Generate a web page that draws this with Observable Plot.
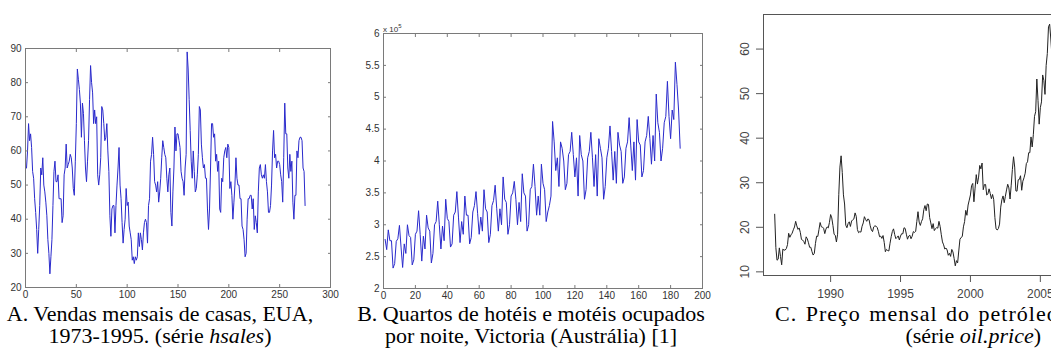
<!DOCTYPE html>
<html><head><meta charset="utf-8">
<script src="https://cdn.jsdelivr.net/npm/d3@7"></script>
<script src="https://cdn.jsdelivr.net/npm/@observablehq/plot@0.6"></script>
<style>
html,body{margin:0;padding:0;background:#fff;}
body{width:1051px;height:351px;overflow:hidden;position:relative;}
.panel{position:absolute;top:0;}
.panel svg{max-width:none !important;}
.cap{position:absolute;font-family:"Liberation Serif","Times New Roman",Tinos,"Nimbus Roman","Noto Serif","DejaVu Serif",serif;font-size:22px;line-height:22px;color:#000;white-space:nowrap;}
.mid{transform:translateX(-50%);}
.exp{position:absolute;left:383px;top:23px;font-family:"Liberation Sans",Arial,sans-serif;font-size:8px;color:#333;}
.exp sup{font-size:6px;}
</style></head><body>
<div id="pa" class="panel" style="left:0px;width:345px"></div>
<div id="pb" class="panel" style="left:340px;width:380px"></div>
<div id="pc" class="panel" style="left:720px;width:360px"></div>
<div class="exp">x 10<sup>5</sup></div>
<div class="cap mid" style="left:160px;top:303px">A. Vendas mensais de casas, EUA,</div>
<div class="cap mid" style="left:160px;top:325px">1973-1995. (série <i>hsales</i>)</div>
<div class="cap mid" style="left:531px;top:303px">B. Quartos de hotéis e motéis ocupados</div>
<div class="cap mid" style="left:531px;top:325px">por noite, Victoria (Austrália) [1]</div>
<div class="cap" style="left:775px;top:303px;letter-spacing:1px;word-spacing:2px">C. Preço mensal do petróleo</div>
<div class="cap" style="right:10px;top:325px">(série <i>oil.price</i>)</div>
<script>
// A. hsales: monthly new house sales, USA, 1973-01 .. 1995-11
const hsales = [
55,60,68,63,65,61,54,52,46,42,37,30,
37,44,55,53,58,50,48,45,41,34,30,24,
29,34,44,54,57,51,51,53,46,46,46,39,
41,53,55,62,55,56,57,59,58,55,49,47,
57,68,84,81,78,74,64,74,71,63,55,51,
57,63,75,85,80,77,68,72,68,70,53,50,
53,58,73,72,68,63,64,68,60,54,41,35,
43,44,44,36,44,50,55,61,50,46,39,33,
37,40,49,44,45,38,36,34,28,29,27,29,
28,29,36,32,36,34,31,36,39,40,39,33,
44,46,57,59,64,59,51,50,48,51,45,48,
52,58,63,61,59,58,52,48,53,55,42,38,
48,55,67,60,65,65,63,61,54,52,51,47,
55,59,89,84,75,66,57,52,60,54,48,49,
53,59,73,72,62,58,55,56,52,52,43,37,
43,55,68,68,64,65,57,59,54,57,43,42,
52,51,58,60,61,58,62,61,49,51,47,40,
45,50,58,52,50,50,46,46,38,37,34,29,
30,40,46,46,47,47,43,46,37,41,39,36,
48,55,56,53,52,53,52,56,51,48,42,42,
44,50,60,66,58,59,55,57,57,56,53,51,
45,58,74,65,65,55,52,59,54,57,45,40,
47,47,60,58,63,64,64,63,55,54,44
];
const hsalesXTicks = [0,50,100,150,200,250,300];
const hsalesYTicks = [20,30,40,50,60,70,80,90];

// B. motel room nights (thousands), Victoria, 1980-01 .. 1995-06
const motel = [
277,261,292,275,275,232,239,274,278,299,265,233,
270,255,300,283,280,237,245,285,290,322,285,243,
282,262,315,295,290,240,255,300,305,337,300,262,
298,275,340,310,305,265,270,315,320,352,312,272,
305,285,345,315,315,270,280,320,330,352,318,285,
312,290,355,325,320,272,285,330,338,362,325,290,
325,300,375,340,335,285,300,345,350,368,340,300,
335,305,380,350,345,290,300,355,360,395,360,315,
345,315,395,365,355,305,320,330,345,462,430,385,
405,360,430,420,400,355,365,410,415,445,410,375,
405,345,440,410,400,340,355,405,415,445,405,360,
410,345,435,420,405,340,360,405,420,455,415,370,
415,365,445,425,415,365,375,420,430,468,425,385,
430,370,465,430,425,375,385,430,440,470,435,395,
440,400,505,460,445,400,420,460,470,525,470,435,
480,465,555,520,480,420
];
const motelXTicks = [0,20,40,60,80,100,120,140,160,180,200];
const motelYTicks = [2,2.5,3,3.5,4,4.5,5,5.5,6];

// C. oil.price: monthly crude oil price (US$/barrel), 1986-01 .. 2006-01
const oilStart = 1986;
const oilPrice = [
22.93,15.45,12.61,12.84,15.38,13.43,11.58,15.10,14.87,14.90,15.22,16.11,
18.65,17.75,18.30,18.68,19.44,20.07,21.34,20.31,19.53,19.86,18.85,17.27,
17.13,16.80,16.20,17.86,17.42,16.53,15.50,15.52,14.54,13.77,14.14,16.38,
18.02,17.94,19.48,21.07,20.12,20.05,19.78,18.58,19.59,20.10,19.86,21.10,
22.86,22.11,20.39,18.43,18.20,16.70,18.45,27.31,33.51,36.04,32.33,27.28,
25.23,20.48,19.90,20.83,21.23,20.19,21.40,21.69,21.89,23.23,22.46,19.50,
18.79,19.01,18.92,20.23,20.98,22.38,21.78,21.34,21.88,21.69,20.34,19.41,
19.03,20.09,20.32,20.25,19.95,19.09,17.89,18.01,17.50,18.15,16.61,14.52,
15.03,14.78,14.68,16.42,17.89,19.06,19.65,18.38,17.45,17.72,18.07,17.16,
18.04,18.57,18.54,19.90,19.74,18.45,17.33,18.02,18.23,17.43,17.99,19.03,
18.85,19.09,21.33,23.50,21.17,20.42,21.30,21.90,23.97,24.88,23.71,25.23,
25.13,22.18,20.97,19.70,20.82,19.26,19.66,19.95,19.80,21.33,20.19,18.33,
16.72,16.06,15.12,15.35,14.91,13.72,14.17,13.47,15.03,14.46,13.00,11.35,
12.51,12.01,14.68,17.31,17.72,17.92,20.10,21.28,23.80,22.69,25.00,26.10,
27.26,29.37,29.84,25.72,28.79,31.82,29.70,31.26,33.88,33.11,34.42,28.44,
29.59,29.61,27.24,27.49,28.63,27.60,26.42,27.37,26.20,22.17,19.64,19.39,
19.72,20.72,24.53,26.18,27.04,25.52,26.97,28.39,29.66,28.84,26.35,29.46,
32.95,35.83,33.51,28.17,28.11,30.66,30.75,31.57,28.31,30.34,31.11,32.13,
34.31,34.69,36.74,36.75,40.28,38.03,40.78,44.90,45.94,53.28,48.47,43.15,
46.84,48.15,54.19,52.98,49.83,56.35,59.00,64.99,65.59,62.26,58.32,59.41,
65.49
];
const oilXTicks = [1990,1995,2000,2005];
const oilYTicks = [10,20,30,40,50,60];

const matFont = '"Liberation Sans", Arial, sans-serif';
const narrowFont = '"Liberation Sans Narrow", "Arial Narrow", "Liberation Sans", sans-serif';
const axisGray = "#7a7a7a";
const blue = "#2a2acc";

function matlabPanel({data, xTicks, yTicks, xDomain, yDomain, yValue, width, ml, mr, mt, mb, yFmt}) {
  return Plot.plot({
    width, height: 310,
    marginLeft: ml, marginRight: mr, marginTop: mt, marginBottom: mb,
    x: {domain: xDomain},
    y: {domain: yDomain},
    style: {background: "transparent", fontFamily: matFont, fontSize: "10px", color: "#333"},
    marks: [
      Plot.lineY(data, {x: (d, i) => i + 1, y: yValue, stroke: blue, strokeWidth: 1}),
      Plot.frame({stroke: axisGray}),
      Plot.axisX(xTicks, {anchor: "bottom", tickSize: -3, tickPadding: 6, stroke: axisGray, fill: "#333", fontFamily: narrowFont, label: null}),
      Plot.axisX(xTicks, {anchor: "top", tickSize: -3, stroke: axisGray, tickFormat: () => "", label: null}),
      Plot.axisY(yTicks, {anchor: "left", tickSize: -3, tickPadding: 7, stroke: axisGray, fill: "#333", tickFormat: yFmt, label: null}),
      Plot.axisY(yTicks, {anchor: "right", tickSize: -3, stroke: axisGray, tickFormat: () => "", label: null})
    ]
  });
}

document.getElementById("pa").append(matlabPanel({
  data: hsales, xTicks: hsalesXTicks, yTicks: hsalesYTicks,
  xDomain: [hsalesXTicks[0], hsalesXTicks[hsalesXTicks.length - 1]],
  yDomain: [hsalesYTicks[0], hsalesYTicks[hsalesYTicks.length - 1]],
  yValue: d => d, width: 345, ml: 25, mr: 15, mt: 48, mb: 23, yFmt: d => String(d)
}));

document.getElementById("pb").append(matlabPanel({
  data: motel, xTicks: motelXTicks, yTicks: motelYTicks,
  xDomain: [motelXTicks[0], motelXTicks[motelXTicks.length - 1]],
  yDomain: [motelYTicks[0], motelYTicks[motelYTicks.length - 1]],
  yValue: d => d / 100, width: 380, ml: 43, mr: 18, mt: 33, mb: 22, yFmt: d => String(d)
}));

// R-style panel
const oil = oilPrice.map((v, i) => ({t: oilStart + i / 12, v}));
const tExt = d3.extent(oil, d => d.t), vExt = d3.extent(oil, d => d.v);
const tPad = (tExt[1] - tExt[0]) * 0.04, vPad = (vExt[1] - vExt[0]) * 0.04;
const rGray = "#444";
document.getElementById("pc").append(Plot.plot({
  width: 360, height: 310,
  marginLeft: 43, marginRight: 15, marginTop: 14, marginBottom: 35,
  x: {domain: [tExt[0] - tPad, tExt[1] + tPad]},
  y: {domain: [vExt[0] - vPad, vExt[1] + vPad]},
  style: {background: "transparent", fontFamily: matFont, fontSize: "12px", color: rGray},
  marks: [
    Plot.line(oil, {x: "t", y: "v", stroke: "#222", strokeWidth: 1}),
    Plot.frame({stroke: "#555"}),
    Plot.axisX(oilXTicks, {anchor: "bottom", tickSize: 7, tickPadding: 7, stroke: "#555", fill: rGray, tickFormat: d => String(d), label: null}),
    Plot.axisY(oilYTicks, {anchor: "left", tickSize: 7, stroke: "#555", tickFormat: () => "", label: null}),
    Plot.text(oilYTicks, {y: d => d, frameAnchor: "left", text: d => String(d), rotate: -90, dx: -18, textAnchor: "middle", lineAnchor: "middle", fill: rGray})
  ]
}));
</script>
</body></html>
